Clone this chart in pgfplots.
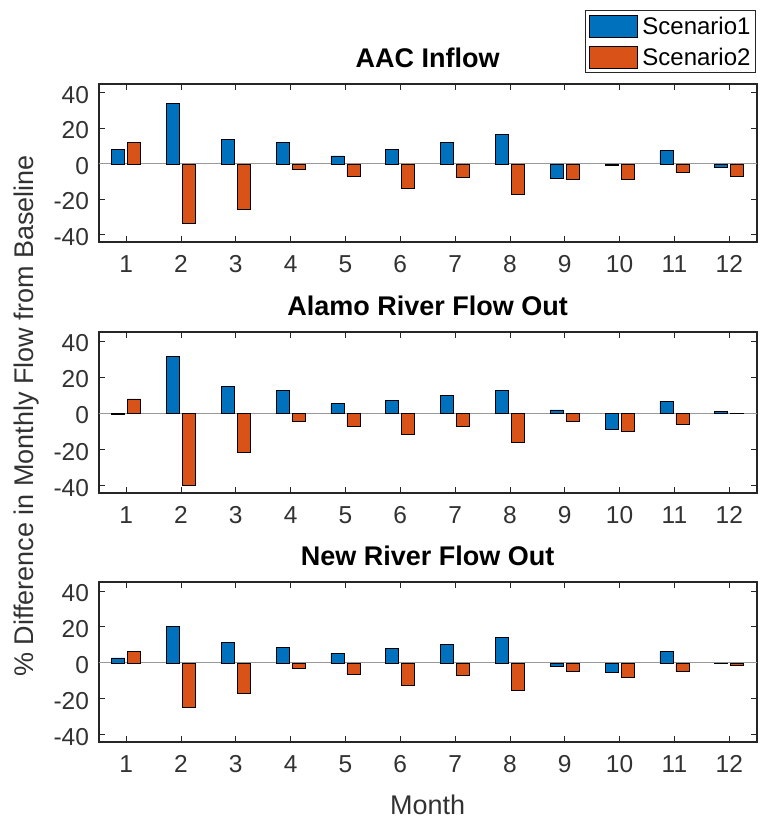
\documentclass[border=0pt]{standalone}
\usepackage{pgfplots}
\usepackage{pgfplotstable}
\pgfplotsset{compat=1.18}
\usepackage{fontspec}
\setmainfont{Liberation Sans}
\definecolor{mblue}{RGB}{0,114,189}
\definecolor{morange}{RGB}{217,83,25}
\definecolor{axgray}{RGB}{38,38,38}
\definecolor{txtgray}{RGB}{50,50,50}

\pgfplotstableread{
month s1 s2
1 8.0 12.1
2 34.0 -33.7
3 14.0 -25.7
4 12.1 -3.3
5 4.5 -6.9
6 8.0 -13.6
7 12.1 -7.4
8 16.7 -16.9
9 -8.2 -8.9
10 -0.9 -8.9
11 7.4 -4.8
12 -1.7 -6.9
}\tabA
\pgfplotstableread{
month s1 s2
1 -0.7 8.0
2 31.4 -39.6
3 14.7 -21.6
4 12.7 -4.3
5 5.4 -6.9
6 7.3 -11.5
7 10.0 -6.9
8 12.7 -16.2
9 1.9 -4.3
10 -8.9 -9.7
11 6.7 -6.1
12 1.3 -0.2
}\tabB
\pgfplotstableread{
month s1 s2
1 2.8 6.5
2 20.2 -25.0
3 11.4 -16.8
4 8.8 -2.8
5 5.4 -6.2
6 8.2 -12.7
7 10.1 -6.7
8 14.2 -15.5
9 -2.1 -4.9
10 -5.4 -8.2
11 6.2 -4.9
12 -0.2 -1.5
}\tabC

\pgfplotsset{
  panel/.style={
    scale only axis,
    width=658bp,
    xmin=0.5, xmax=12.5,
    ymin=-44, ymax=45,
    xtick={1,...,12},
    ytick={-40,-20,0,20,40},
    tick align=inside,
    major tick length=6bp,
    tick style={axgray, line width=0.9bp},
    axis line style={axgray, line width=1.6bp},
    /pgf/number format/assume math mode=true,
    tick label style={font=\fontsize{24.5bp}{28bp}\selectfont, text=txtgray},
    xticklabel style={anchor=north, inner sep=0pt, yshift=-13bp},
    yticklabel style={anchor=east, inner sep=0pt, xshift=-9.5bp, yshift=-2bp},
    extra y ticks={0},
    extra y tick labels={},
    extra y tick style={grid=major, major grid style={gray!80, line width=0.9bp}, major tick length=0pt},
    title style={font=\bfseries\fontsize{27bp}{30bp}\selectfont, at={(0.5,1)}, anchor=base, yshift=11bp, inner sep=0pt},
    clip=false,
  },
  bS1/.style={ybar, bar width=13bp, bar shift=-8bp, fill=mblue, draw=black, line width=0.7bp},
  bS2/.style={ybar, bar width=13bp, bar shift=8bp, fill=morange, draw=black, line width=0.7bp},
}

\begin{document}
\begin{tikzpicture}
\path[use as bounding box] (0bp,0bp) rectangle (761bp,-819bp);

\begin{axis}[panel, height=158bp, at={(98.7bp,-84bp)}, anchor=north west,
  title={AAC Inflow},
  legend style={at={(1,1)}, anchor=south east, yshift=11bp, xshift=-0.7bp,
    draw=axgray, line width=1bp, font=\fontsize{24bp}{28bp}\selectfont,
    inner xsep=3bp, inner ysep=4bp, row sep=8bp, column sep=3bp,
    cells={anchor=west}},
  legend image code/.code={\draw[#1, line width=0.8bp] (0bp,-11bp) rectangle (48bp,11bp);},
  legend cell align=left,
]
\addplot[bS1] table[x=month, y=s1] {\tabA};
\addplot[bS2] table[x=month, y=s2] {\tabA};
\legend{Scenario1, Scenario2}
\end{axis}

\begin{axis}[panel, height=161bp, at={(98.7bp,-332bp)}, anchor=north west,
  title={Alamo River Flow Out}]
\addplot[bS1] table[x=month, y=s1] {\tabB};
\addplot[bS2] table[x=month, y=s2] {\tabB};
\end{axis}

\begin{axis}[panel, height=160bp, at={(98.7bp,-582bp)}, anchor=north west,
  title={New River Flow Out}]
\addplot[bS1] table[x=month, y=s1] {\tabC};
\addplot[bS2] table[x=month, y=s2] {\tabC};
\end{axis}

\node[rotate=90, anchor=base, text=txtgray, font=\fontsize{27bp}{30bp}\selectfont] at (33bp,-416bp) {\% Difference in Monthly Flow from Baseline};
\node[anchor=base, text=txtgray, font=\fontsize{27bp}{30bp}\selectfont] at (427.7bp,-814bp) {Month};
\end{tikzpicture}
\end{document}
